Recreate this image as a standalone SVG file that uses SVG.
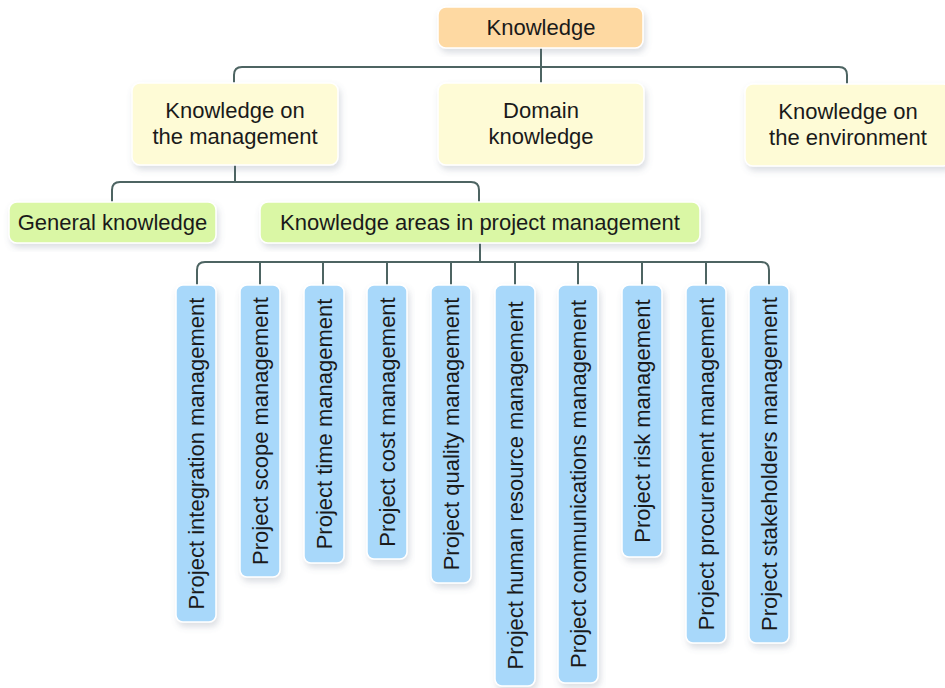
<svg xmlns="http://www.w3.org/2000/svg" width="945" height="688" viewBox="0 0 945 688">
<defs>
<filter id="sh" x="-20%" y="-20%" width="140%" height="140%">
<feDropShadow dx="2" dy="4" stdDeviation="3" flood-color="#5a6a80" flood-opacity="0.22"/>
</filter>
</defs>
<style>
.box{stroke:#ffffff;stroke-width:1.5;filter:url(#sh)}
.org{fill:#FED9A2}
.yel{fill:#FEFBD6}
.grn{fill:#DAF7A5}
.blu{fill:#A8D8FA}
text{font-family:"Liberation Sans",Arial,sans-serif;font-size:22px;fill:#1a1a1a}
.c{text-anchor:middle}
.con{fill:none;stroke:#4D6462;stroke-width:2}
</style>
<rect width="945" height="688" fill="#ffffff"/>
<g id="connectors">
<path class="con" d="M541 48 V83"/>
<path class="con" d="M234 83 V75 Q234 67 242 67 H839 Q847 67 847 75 V85"/>
<path class="con" d="M235 165 V182"/>
<path class="con" d="M112 202 V190 Q112 182 120 182 H471 Q479 182 479 190 V202"/>
<path class="con" d="M480 243 V262"/>
<path class="con" d="M197 285 V270 Q197 262 205 262 H761 Q769 262 769 270 V285"/>
<path class="con" d="M260 262 V285 M323 262 V285 M387 262 V285 M451 262 V285 M515 262 V285 M578 262 V285 M642 262 V285 M706 262 V285"/>
</g>
<g id="knowledge">
<rect class="box org" x="438" y="7" width="205" height="41" rx="8"/>
<text class="c" x="541" y="35">Knowledge</text>
</g>
<g id="management">
<rect class="box yel" x="132" y="83" width="206" height="82" rx="8"/>
<text class="c" x="235" y="118">Knowledge on</text>
<text class="c" x="235" y="144">the management</text>
</g>
<g id="domain">
<rect class="box yel" x="438" y="83" width="206" height="82" rx="8"/>
<text class="c" x="541" y="118">Domain</text>
<text class="c" x="541" y="144">knowledge</text>
</g>
<g id="environment">
<rect class="box yel" x="745" y="84" width="206" height="82" rx="8"/>
<text class="c" x="848" y="119">Knowledge on</text>
<text class="c" x="848" y="145">the environment</text>
</g>
<g id="general">
<rect class="box grn" x="9" y="202" width="207" height="41" rx="8"/>
<text class="c" x="112.5" y="230">General knowledge</text>
</g>
<g id="areas">
<rect class="box grn" x="260" y="202" width="440" height="41" rx="8"/>
<text class="c" x="480" y="230">Knowledge areas in project management</text>
</g>
<g id="integration">
<rect class="box blu" x="176" y="285" width="40" height="337" rx="7"/>
<text class="c" transform="translate(204 453.5) rotate(-90)">Project integration management</text>
</g>
<g id="scope">
<rect class="box blu" x="240" y="285" width="40" height="292" rx="7"/>
<text class="c" transform="translate(268 431) rotate(-90)">Project scope management</text>
</g>
<g id="time">
<rect class="box blu" x="304" y="285" width="40" height="278" rx="7"/>
<text class="c" transform="translate(332 424) rotate(-90)">Project time management</text>
</g>
<g id="cost">
<rect class="box blu" x="367" y="285" width="40" height="274" rx="7"/>
<text class="c" transform="translate(395 422) rotate(-90)">Project cost management</text>
</g>
<g id="quality">
<rect class="box blu" x="431" y="285" width="40" height="298" rx="7"/>
<text class="c" transform="translate(459 434) rotate(-90)">Project quality management</text>
</g>
<g id="human">
<rect class="box blu" x="495" y="285" width="40" height="401" rx="7"/>
<text class="c" transform="translate(523 485.5) rotate(-90)">Project human resource management</text>
</g>
<g id="communications">
<rect class="box blu" x="558" y="285" width="40" height="398" rx="7"/>
<text class="c" transform="translate(586 484) rotate(-90)">Project communications management</text>
</g>
<g id="risk">
<rect class="box blu" x="622" y="285" width="40" height="272" rx="7"/>
<text class="c" transform="translate(650 421) rotate(-90)">Project risk management</text>
</g>
<g id="procurement">
<rect class="box blu" x="686" y="285" width="40" height="358" rx="7"/>
<text class="c" transform="translate(714 464) rotate(-90)">Project procurement management</text>
</g>
<g id="stakeholders">
<rect class="box blu" x="749" y="285" width="40" height="358" rx="7"/>
<text class="c" transform="translate(777 464) rotate(-90)">Project stakeholders management</text>
</g>
</svg>
